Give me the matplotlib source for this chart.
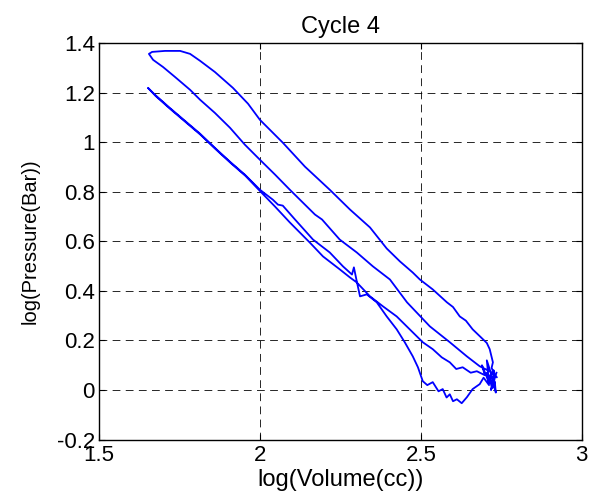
import matplotlib.pyplot as plt

plt.rcParams['font.family'] = ['Liberation Sans', 'DejaVu Sans']

# compression-side branch, from bottom right up to the top-left corner
b_x = [2.736, 2.714, 2.683, 2.643, 2.590, 2.528, 2.457, 2.404, 2.351, 2.301, 2.248, 2.193,
       2.171, 2.124, 2.093, 2.047, 2.000, 1.953, 1.907, 1.860, 1.814, 1.783, 1.736, 1.699,
       1.668, 1.655]
b_y = [0.052, 0.076, 0.096, 0.136, 0.193, 0.257, 0.354, 0.446, 0.499, 0.555, 0.607, 0.688,
       0.708, 0.768, 0.808, 0.869, 0.929, 0.990, 1.058, 1.118, 1.171, 1.211, 1.263, 1.303,
       1.332, 1.356]

# expansion branch, flat top then down to bottom right
a_x = [1.655, 1.665, 1.705, 1.752, 1.783, 1.814, 1.860, 1.916, 1.963, 2.000, 2.071, 2.140,
       2.217, 2.280, 2.342, 2.394, 2.435, 2.475, 2.497, 2.537, 2.581, 2.600, 2.621, 2.640,
       2.661, 2.693, 2.705, 2.714, 2.724, 2.720, 2.730, 2.726, 2.730, 2.724, 2.733, 2.730]
a_y = [1.356, 1.364, 1.368, 1.368, 1.356, 1.328, 1.283, 1.219, 1.155, 1.090, 0.998, 0.901,
       0.808, 0.728, 0.656, 0.571, 0.519, 0.474, 0.446, 0.406, 0.354, 0.335, 0.297, 0.280,
       0.245, 0.205, 0.190, 0.165, 0.112, 0.090, 0.056, 0.080, 0.004, 0.040, -0.010, 0.030]

# lower branch with the dip below zero, from bottom right back up to the left end
d_x = [2.730, 2.715, 2.722, 2.705, 2.712, 2.695, 2.683, 2.661, 2.643, 2.627, 2.612, 2.600,
       2.590, 2.580, 2.568, 2.555, 2.537, 2.520, 2.506, 2.491, 2.475, 2.450, 2.425, 2.394,
       2.363, 2.332, 2.311, 2.301, 2.292, 2.286, 2.258, 2.217, 2.165, 2.109, 2.071, 2.056,
       2.040, 2.000, 1.953, 1.907, 1.860, 1.814, 1.767, 1.720, 1.674, 1.652]
d_y = [0.032, 0.060, 0.010, 0.070, 0.020, 0.050, 0.024, 0.004, -0.029, -0.053, -0.037, -0.045,
       -0.017, -0.030, 0.004, -0.005, 0.032, 0.020, 0.036, 0.092, 0.136, 0.193, 0.245, 0.297,
       0.354, 0.386, 0.378, 0.438, 0.495, 0.466, 0.499, 0.555, 0.607, 0.688, 0.744, 0.748,
       0.768, 0.808, 0.869, 0.921, 0.977, 1.034, 1.086, 1.138, 1.191, 1.219]

# second line along the lower side, from the left end to bottom right
c_x = [1.652, 1.676, 1.722, 1.769, 1.816, 1.862, 1.909, 1.955, 2.000, 2.047, 2.093, 2.155,
       2.196, 2.248, 2.280, 2.301, 2.342, 2.382, 2.425, 2.450, 2.475, 2.506, 2.537, 2.565,
       2.590, 2.610, 2.630, 2.655, 2.674, 2.699, 2.690, 2.712, 2.705, 2.724, 2.718, 2.735]
c_y = [1.219, 1.186, 1.133, 1.081, 1.029, 0.972, 0.916, 0.864, 0.803, 0.740, 0.676, 0.595,
       0.539, 0.487, 0.454, 0.434, 0.378, 0.338, 0.297, 0.265, 0.233, 0.193, 0.165, 0.132,
       0.112, 0.085, 0.092, 0.070, 0.076, 0.060, 0.100, 0.030, 0.120, 0.044, 0.000, 0.070]

x = b_x + a_x + d_x + c_x
y = b_y + a_y + d_y + c_y

fig = plt.figure(figsize=(5.93, 4.94), dpi=100)
ax = fig.add_axes([0.167, 0.110, 0.814, 0.803])
ax.plot(x, y, color='#0000ff', lw=1.3)

ax.set_xlim(1.5, 3)
ax.set_ylim(-0.2, 1.4)
ax.set_xticks([1.5, 2, 2.5, 3])
ax.set_xticklabels(['1.5', '2', '2.5', '3'])
ax.set_yticks([-0.2, 0, 0.2, 0.4, 0.6, 0.8, 1, 1.2, 1.4])
ax.set_yticklabels(['-0.2', '0', '0.2', '0.4', '0.6', '0.8', '1', '1.2', '1.4'])
ax.grid(True, color='black', linestyle=(0, (8, 5.5)), linewidth=0.7, alpha=0.85)
ax.tick_params(direction='in', top=True, right=True, length=4, labelsize=16)
ax.tick_params(axis='x', pad=4)
ax.tick_params(axis='y', pad=3)
for s in ax.spines.values():
    s.set_linewidth(1.0)

ax.set_xlabel('log(Volume(cc))', fontsize=17, labelpad=2)
ax.set_ylabel('log(Pressure(Bar))', fontsize=14.5, labelpad=12)
ax.set_title('Cycle 4', fontsize=17, pad=7)

fig.savefig('out.png', dpi=100)
